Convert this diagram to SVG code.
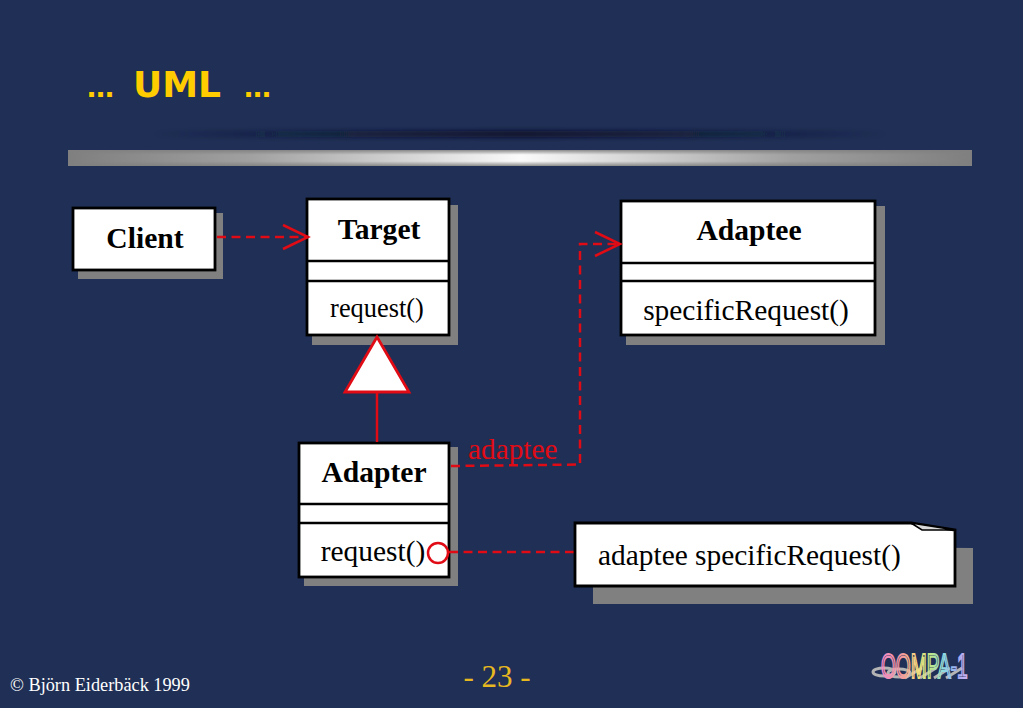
<svg xmlns="http://www.w3.org/2000/svg" width="1023" height="708" viewBox="0 0 1023 708">
<defs>
<linearGradient id="bar" x1="0" x2="1" y1="0" y2="0"><stop offset="0" stop-color="#7f7f7f"/><stop offset=".2" stop-color="#a0a0a0"/><stop offset=".5" stop-color="#fafafa"/><stop offset=".8" stop-color="#a0a0a0"/><stop offset="1" stop-color="#7f7f7f"/></linearGradient>
<linearGradient id="shade" x1="0" x2="0" y1="0" y2="1"><stop offset="0" stop-color="#808080" stop-opacity=".9"/><stop offset=".3" stop-color="#808080" stop-opacity="0"/><stop offset=".7" stop-color="#808080" stop-opacity="0"/><stop offset="1" stop-color="#808080" stop-opacity=".9"/></linearGradient>
<linearGradient id="dark" x1="0" x2="1" y1="0" y2="0"><stop offset="0" stop-color="#0b1128" stop-opacity="0"/><stop offset=".3" stop-color="#0b1128" stop-opacity=".7"/><stop offset=".5" stop-color="#0b1128"/><stop offset=".7" stop-color="#0b1128" stop-opacity=".7"/><stop offset="1" stop-color="#0b1128" stop-opacity="0"/></linearGradient>
<linearGradient id="rainbow" gradientUnits="userSpaceOnUse" x1="0" x2="161" y1="0" y2="0"><stop offset="0" stop-color="#f48ac8"/><stop offset=".25" stop-color="#f49a9a"/><stop offset=".42" stop-color="#f6e27a"/><stop offset=".58" stop-color="#b8e68c"/><stop offset=".72" stop-color="#8cd8e6"/><stop offset=".86" stop-color="#9aa8f0"/><stop offset="1" stop-color="#d8b4f0"/></linearGradient>
<filter id="soft" x="0" y="-300%" width="100%" height="700%"><feGaussianBlur stdDeviation="0 2.500"/></filter>
<marker id="open" markerUnits="userSpaceOnUse" markerWidth="30" markerHeight="30" refX="27" refY="15" orient="auto"><path d="M2 3L27 15L2 27" fill="none" stroke="#e00b14" stroke-width="2.5"/></marker>
</defs>
<style>
.s{fill:#808080}
.b{fill:#fff;stroke:#000;stroke-width:2.8}
.l{stroke:#000;stroke-width:2.5}
.t{font-family:"Liberation Serif",serif;fill:#000;text-anchor:middle}
.h{font-size:29.6px;font-weight:bold}
.m{font-size:26.4px}
.g{font-size:29.4px}
.c{fill:none;stroke:#e00b14;stroke-width:2.5}
.d{stroke-dasharray:9 5.5}
</style>
<rect width="1023" height="708" fill="#1f2f56"/>
<rect x="150" y="131" width="740" height="6" fill="url(#dark)" filter="url(#soft)"/>
<rect x="68" y="150" width="904" height="16" fill="url(#bar)"/>
<rect x="68" y="150" width="904" height="16" fill="url(#shade)"/>
<text y="97" font-family="'DejaVu Sans',sans-serif" font-size="36" font-weight="bold" fill="#ffcc00"><tspan x="87" font-size="27">…</tspan> <tspan x="133">UML</tspan> <tspan x="244" font-size="27">…</tspan></text>
<g id="client"><rect class="s" x="78" y="213" width="145" height="66"/><rect class="b" x="73" y="208" width="142" height="62"/><text class="t h" x="145" y="248">Client</text></g>
<g id="target"><rect class="s" x="312" y="205" width="146" height="140"/><rect class="b" x="307" y="199" width="142" height="136"/><path class="l" d="M307 261H449M307 281H449"/><text class="t h" x="379" y="239">Target</text><text class="t m" x="377" y="317">request()</text></g>
<g id="adaptee"><rect class="s" x="626" y="206" width="259" height="139"/><rect class="b" x="621" y="201" width="254" height="134"/><path class="l" d="M621 263H875M621 281H875"/><text class="t h" x="749" y="240">Adaptee</text><text class="t g" x="746" y="320">specificRequest()</text></g>
<g id="adapter"><rect class="s" x="304" y="447" width="154" height="139"/><rect class="b" x="299" y="443" width="150" height="134"/><path class="l" d="M299 504H449M299 523H449"/><text class="t h" x="374" y="482">Adapter</text><text class="t g" x="373" y="561">request()</text></g>
<g id="connectors">
<path class="c d" d="M217 237H308" marker-end="url(#open)"/>
<path class="c" d="M377 392V442"/>
<path class="c d" d="M451 466L580 464.500V244H620" marker-end="url(#open)"/>
<path class="c d" d="M449 552H576"/>
<circle cx="438" cy="553" r="10" fill="none" stroke="#e00b14" stroke-width="2.5"/>
</g>
<g id="generalization"><path d="M377 337L409 392H345Z" fill="#fff" stroke="#e00b14" stroke-width="2.8"/></g>
<text x="468" y="459" font-family="'Liberation Serif',serif" font-size="29.3" fill="#e00b14">adaptee</text>
<g id="note"><path class="s" d="M593 545L973 548V604H593Z"/><path class="b" d="M575 523H911L955 530V586H575Z"/><path d="M911 523L922 530L955 530Z" fill="#d9d9d9" stroke="#000" stroke-width="1.5"/><text class="t g" style="text-anchor:start" x="598" y="565">adaptee specificRequest()</text></g>
<text x="10" y="691" font-family="'Liberation Serif',serif" font-size="18.300" fill="#fff">© Björn Eiderbäck 1999</text>
<text x="497" y="687" text-anchor="middle" font-family="'Liberation Serif',serif" font-size="31" fill="#e8b820">- 23 -</text>
<g id="logo">
<g fill="none" stroke="#b4b4b4" stroke-width="3"><ellipse cx="884" cy="672" rx="11" ry="4"/><ellipse cx="899" cy="673" rx="11" ry="4"/><path d="M905 678L922 668M920 678L936 668M934 678L950 668M946 678L962 668"/></g>
<text transform="translate(881 678) scale(.546 1)" x="0" y="0" font-family="'Liberation Sans',sans-serif" font-size="35" fill="none" stroke="url(#rainbow)" stroke-width="2.200">OOMPA-1</text>
</g>
</svg>
